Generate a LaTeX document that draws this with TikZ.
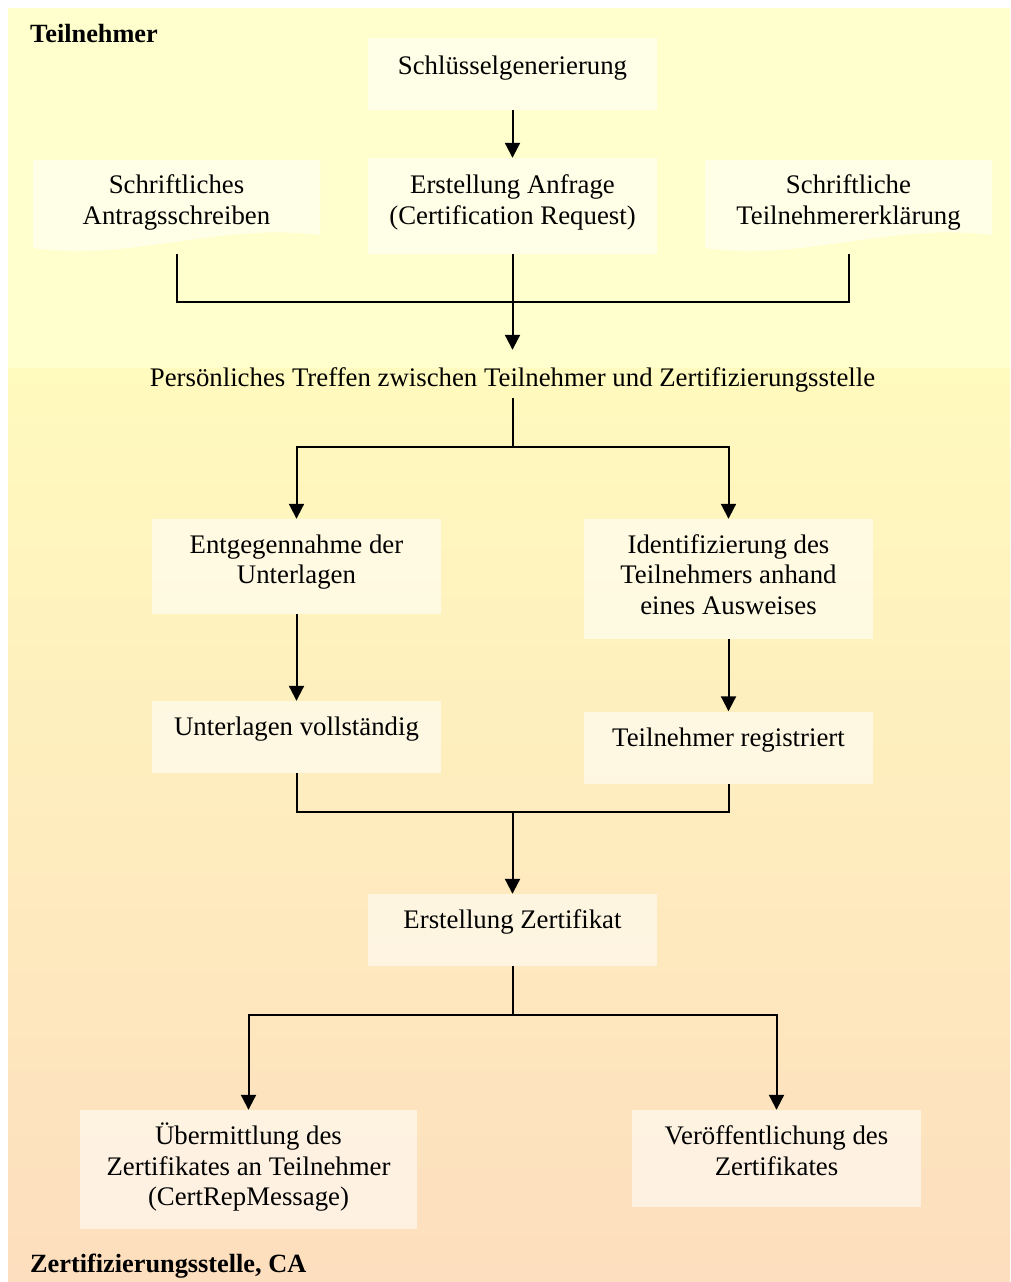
\documentclass[tikz,border=0pt]{standalone}
\usepackage{fontspec}
\setmainfont{Liberation Serif}
\usetikzlibrary{arrows.meta}

\definecolor{bgtop}{RGB}{255,255,205}
\definecolor{bgmid}{RGB}{255,250,190}
\definecolor{bgbot}{RGB}{253,222,190}

\tikzset{
  stepbox/.style={rectangle, draw=none, fill=white, fill opacity=0.55,
                  inner sep=0pt, minimum width=289pt},
  txt/.style={anchor=north, inner sep=0pt, align=center,
              font=\fontsize{26.8}{30.5}\selectfont,
              execute at begin node=\strut},
  lane/.style={anchor=north west, inner sep=0pt,
               font=\fontsize{26.3}{30.5}\selectfont\bfseries,
               execute at begin node=\strut},
  flow/.style={line width=2pt, -{Triangle[length=15pt, width=15pt]}},
  link/.style={line width=2pt}
}

\begin{document}
\begin{tikzpicture}[x=1pt, y=-1pt]
  \useasboundingbox (0,0) rectangle (1010,1282);

  % lane backgrounds
  \fill[bgtop] (8,8) rectangle (1010,368);
  \shade[top color=bgmid, bottom color=bgbot] (8,368) rectangle (1010,1282);

  % lane titles
  \node[lane] (laneA) at (30,21.35) {Teilnehmer};
  \node[lane] (laneB) at (30,1251.35) {Zertifizierungsstelle, CA};

  % document shapes (wavy lower edge)
  \fill[white, fill opacity=0.55]
    (33,160) -- (320,160) -- (320,235)
    .. controls (220,222) and (130,262) .. (33,248) -- cycle;
  \fill[white, fill opacity=0.55]
    (705,160) -- (992,160) -- (992,235)
    .. controls (892,222) and (802,262) .. (705,248) -- cycle;
  \node[txt] (antrag) at (176.5,174.65) {Schriftliches\\Antragsschreiben};
  \node[txt] (erkl) at (848.5,174.65) {Schriftliche\\Teilnehmererklärung};
  \coordinate (antragB) at (176.5,254);
  \coordinate (erklB) at (848.5,254);

  % process boxes
  \node[stepbox, minimum height=72pt] (sg) at (512.5,74) {};
  \node[stepbox, minimum height=96pt] (ea) at (512.5,206) {};
  \node[stepbox, minimum height=95pt] (eu) at (296.5,566.5) {};
  \node[stepbox, minimum height=120pt] (id) at (728.5,579) {};
  \node[stepbox, minimum height=72pt] (uv) at (296.5,737) {};
  \node[stepbox, minimum height=72pt] (tr) at (728.5,747.5) {};
  \node[stepbox, minimum height=72pt] (ez) at (512.5,930) {};
  \node[stepbox, minimum height=119pt, minimum width=337pt] (ue) at (248.5,1169.5) {};
  \node[stepbox, minimum height=97pt] (vo) at (776.5,1158.5) {};

  % box texts
  \node[txt] (sg-t) at (512.5,52.65) {Schlüsselgenerierung};
  \node[txt] (ea-t) at (512.5,174.65) {Erstellung Anfrage\\(Certification Request)};
  \node[txt] (eu-t) at (296.5,534.35) {Entgegennahme der\\Unterlagen};
  \node[txt] (id-t) at (728.5,534.35) {Identifizierung des\\Teilnehmers anhand\\eines Ausweises};
  \node[txt] (uv-t) at (296.5,714.15) {Unterlagen vollständig};
  \node[txt] (tr-t) at (728.5,724.65) {Teilnehmer registriert};
  \node[txt] (ez-t) at (512.5,906.65) {Erstellung Zertifikat};
  \node[txt] (ue-t) at (248.5,1122.65) {Übermittlung des\\Zertifikates an Teilnehmer\\(CertRepMessage)};
  \node[txt] (vo-t) at (776.5,1125.65) {Veröffentlichung des\\Zertifikates};

  % meeting step (text only)
  \node[anchor=base, inner sep=0pt, font=\fontsize{26.8}{30.5}\selectfont,
        text height=36pt, text depth=12pt] (tm) at (512.5,386)
        {Persönliches Treffen zwischen Teilnehmer und Zertifizierungsstelle};

  % connectors
  \draw[flow] (sg) -- (ea);
  \coordinate (j1) at (512.5,302);
  \draw[link] (antragB) |- (j1);
  \draw[link] (erklB) |- (j1);
  \draw[flow] (ea.south) -- (tm.north);

  \coordinate (j2) at (512.5,446.5);
  \draw[link] (tm.south) -- (j2);
  \draw[flow] (j2) -| (eu.north);
  \draw[flow] (j2) -| (id.north);

  \draw[flow] (eu) -- (uv);
  \draw[flow] (id) -- (tr);

  \coordinate (j3) at (512.5,812);
  \draw[link] (uv.south) |- (j3);
  \draw[link] (tr.south) |- (j3);
  \draw[flow] (j3) -- (ez.north);

  \coordinate (j4) at (512.5,1014.5);
  \draw[link] (ez.south) -- (j4);
  \draw[flow] (j4) -| (ue.north);
  \draw[flow] (j4) -| (vo.north);
\end{tikzpicture}
\end{document}
